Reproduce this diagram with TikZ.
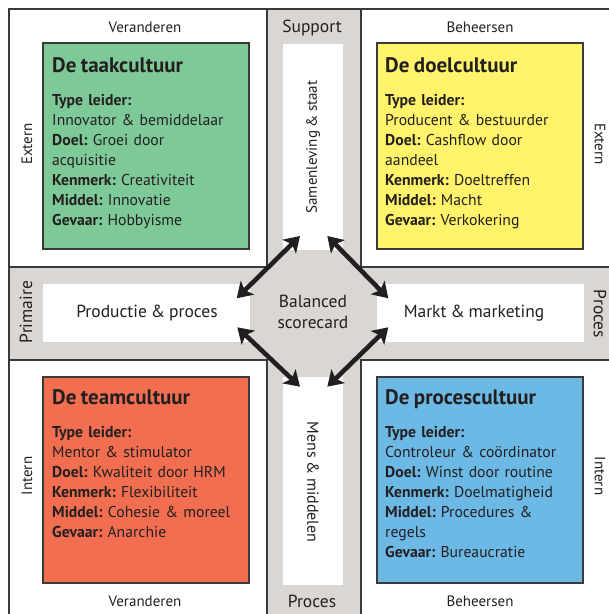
\documentclass[tikz,border=0pt]{standalone}
\usepackage{fontspec}
\setmainfont{PT Sans}[WordSpace=0.85]
\usetikzlibrary{arrows.meta}

\definecolor{band}{RGB}{218,214,211}
\definecolor{rule}{RGB}{58,58,58}
\definecolor{ink}{RGB}{35,31,32}
\definecolor{taak}{RGB}{126,201,152}
\definecolor{doel}{RGB}{255,243,107}
\definecolor{team}{RGB}{242,110,80}
\definecolor{proc}{RGB}{108,185,229}

% bold key followed by its value
\newcommand{\kv}[2]{\textbf{#1} #2}

\begin{document}
\frenchspacing
\begin{tikzpicture}[x=1pt,y=-1pt,
  every node/.style={text=ink, inner sep=0pt, font=\fontsize{15}{18}\selectfont},
  cell/.style={draw=rule, fill=white, line width=1.1pt},
  slot/.style={fill=white},
  culture/.style={draw=rule, line width=1.2pt},
  ctitle/.style={anchor=base west, font=\fontsize{21}{24}\selectfont\bfseries},
  cbody/.style={anchor=north west, align=left, text width=200pt,
                font=\fontsize{15.7}{20}\selectfont},
  axis/.style={anchor=base},
  bandtext/.style={font=\fontsize{17.5}{21}\selectfont},
  sideL/.style={rotate=90},
  sideR/.style={rotate=-90},
  bsarrow/.style={draw=ink, line width=4.6pt,
    {Stealth[length=15pt,width=19pt,inset=3.5pt]}-{Stealth[length=15pt,width=19pt,inset=3.5pt]}},
]
\useasboundingbox (0,0) rectangle (609,614);
\clip (0,0) rectangle (609,614);

% grey bands behind everything, then the four quadrant cells
\path[fill=band, draw=rule, line width=1.1pt] (9,9) rectangle (660,660);
\path[cell] (9,9) rectangle (267,267);
\path[cell] (361,9) rectangle (660,267);
\path[cell] (9,360) rectangle (267,660);
\path[cell] (361,360) rectangle (660,660);

% white slots inside the bands
\path[slot] (283,44) rectangle (343,250);
\path[slot] (283,377) rectangle (343,585);
\path[slot] (43,284) rectangle (250,342);
\path[slot] (377,284) rectangle (584,342);

% culture boxes
\path[culture, fill=taak] (43,43) rectangle (249,249);
\path[culture, fill=doel] (377,43) rectangle (583,249);
\path[culture, fill=team] (43,377) rectangle (249,583);
\path[culture, fill=proc] (377,377) rectangle (583,583);

\node[ctitle] (t1) at (52,72.5) {De taakcultuur};
\node[cbody] (b1) at (52,91) {\strut\textbf{Type leider:}\\
  Innovator \& bemiddelaar\\
  \kv{Doel:}{Groei door}\\
  acquisitie\\
  \kv{Kenmerk:}{Creativiteit}\\
  \kv{Middel:}{Innovatie}\\
  \kv{Gevaar:}{Hobbyisme}};

\node[ctitle] (t2) at (385,72.5) {De doelcultuur};
\node[cbody] (b2) at (385,91) {\strut\textbf{Type leider:}\\
  Producent \& bestuurder\\
  \kv{Doel:}{Cashflow door}\\
  aandeel\\
  \kv{Kenmerk:}{Doeltreffen}\\
  \kv{Middel:}{Macht}\\
  \kv{Gevaar:}{Verkokering}};

\node[ctitle] (t3) at (52,404.5) {De teamcultuur};
\node[cbody] (b3) at (52,423) {\strut\textbf{Type leider:}\\
  Mentor \& stimulator\\
  \kv{Doel:}{Kwaliteit door HRM}\\
  \kv{Kenmerk:}{Flexibiliteit}\\
  \kv{Middel:}{Cohesie \& moreel}\\
  \kv{Gevaar:}{Anarchie}};

\node[ctitle] (t4) at (385,404.5) {De procescultuur};
\node[cbody] (b4) at (385,423) {\strut\textbf{Type leider:}\\
  Controleur \& coördinator\\
  \kv{Doel:}{Winst door routine}\\
  \kv{Kenmerk:}{Doelmatigheid}\\
  \kv{Middel:}{Procedures \&}\\
  regels\\
  \kv{Gevaar:}{Bureaucratie}};

% axis labels in the cells
\node[axis] (verT) at (145,32) {Veranderen};
\node[axis] (behT) at (480,32) {Beheersen};
\node[axis] (verB) at (145,606) {Veranderen};
\node[axis] (behB) at (480,606) {Beheersen};
\node[sideL] (extL) at (27,144) {Extern};
\node[sideR] (extR) at (600,144) {Extern};
\node[sideL] (intL) at (27,476) {Intern};
\node[sideR] (intR) at (600,476) {Intern};

% axis labels in the bands
\node[axis, bandtext] (sup)  at (312,32) {Support};
\node[axis, bandtext] (procB) at (312,607) {Proces};
\node[sideL, bandtext] (prim) at (26,312) {Primaire};
\node[sideR, bandtext] (procR) at (600,314) {Proces};

% labels in the slots
\node[sideL] (sam)  at (313,147) {Samenleving \& staat};
\node[sideR, font=\fontsize{16}{18}\selectfont] (mens) at (313,482) {Mens \& middelen};
\node[bandtext] (prod) at (147,313) {Productie \& proces};
\node[bandtext] (mark) at (474,313) {Markt \& marketing};
\node[align=center, text width=90pt, font=\fontsize{17.5}{21}\selectfont]
  (bsc) at (313,313.5) {\strut Balanced\\ scorecard\strut};

% double arrows around the scorecard
\coordinate (ulA) at (236.7,298.3);
\coordinate (ulB) at (300,236);
\coordinate (urA) at (327.3,236);
\coordinate (urB) at (388.3,298.3);
\coordinate (llA) at (237.3,327.3);
\coordinate (llB) at (300,386.7);
\coordinate (lrA) at (327.3,386.7);
\coordinate (lrB) at (388.3,327.3);

\draw[bsarrow] (ulA) -- (ulB);
\draw[bsarrow] (urA) -- (urB);
\draw[bsarrow] (llA) -- (llB);
\draw[bsarrow] (lrA) -- (lrB);
\end{tikzpicture}
\end{document}
